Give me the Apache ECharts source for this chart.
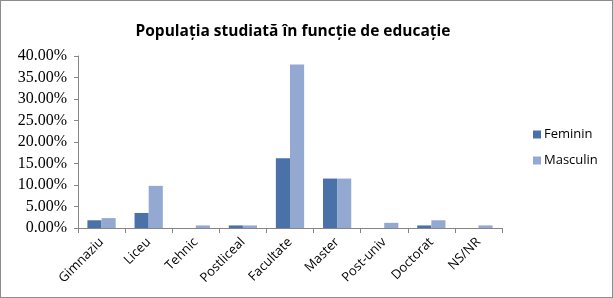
<!DOCTYPE html>
<html><head><meta charset="utf-8">
<script src="https://cdn.jsdelivr.net/npm/echarts@6/dist/echarts.min.js"></script>
<style>html,body{margin:0;padding:0;background:#fff}
#c{position:absolute;left:0;top:0;width:611px;height:296px;border:1px solid #8c8c8c}</style>
</head><body><div id="c"></div>
<script>
const categories = ['Gimnaziu','Liceu','Tehnic','Postliceal','Facultate','Master','Post-univ','Doctorat','NS/NR'];
const feminin = [1.8, 3.5, 0, 0.6, 16.2, 11.5, 0, 0.6, 0];
const masculin = [2.3, 9.8, 0.6, 0.6, 38.0, 11.5, 1.2, 1.8, 0.6];
const title = 'Populația studiată în funcție de educație';
const font = '"Open Sans", "Liberation Sans", sans-serif';
const serif = '"Liberation Serif", "DejaVu Serif", serif';
const chart = echarts.init(document.getElementById('c'));
chart.setOption({
  animation:false,
  title:{text:title,left:287,textAlign:'center',top:18,textStyle:{fontFamily:font,fontSize:15.5,fontWeight:'bold',color:'#000'}},
  legend:{orient:'vertical',left:527,top:122,itemWidth:8,itemHeight:8,itemGap:13,icon:'rect',
    textStyle:{fontFamily:font,fontSize:13,color:'#000',padding:[0,0,0,-2]}},
  grid:{left:77,right:110,top:55,bottom:69},
  xAxis:{type:'category',data:categories,
    axisLine:{lineStyle:{color:'#868686'}},
    axisTick:{show:true,length:5,lineStyle:{color:'#868686'}},
    axisLabel:{rotate:45,fontFamily:font,fontSize:13,color:'#000',margin:12}},
  yAxis:{type:'value',min:0,max:40,interval:5,
    axisLine:{show:true,lineStyle:{color:'#868686'}},
    axisTick:{show:true,length:4,lineStyle:{color:'#868686'}},
    splitLine:{show:false},
    axisLabel:{formatter:v=>v.toFixed(2)+'%',fontFamily:serif,fontSize:16,color:'#000',margin:11}},
  series:[
    {name:'Feminin',type:'bar',data:feminin,barGap:'0%',barCategoryGap:'40%',itemStyle:{color:'#4A72A8'}},
    {name:'Masculin',type:'bar',data:masculin,itemStyle:{color:'#93A9D1'}}
  ]
});
</script></body></html>
